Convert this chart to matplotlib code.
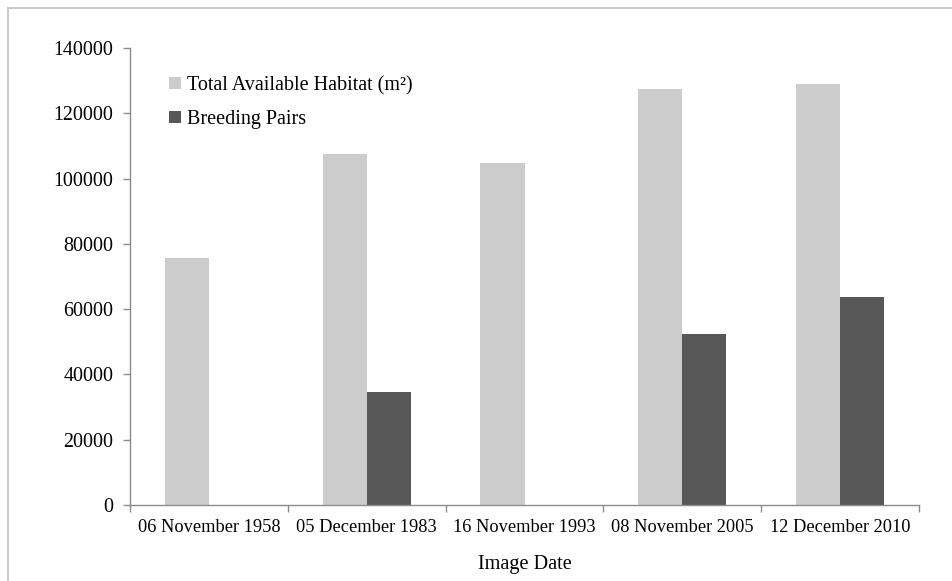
import numpy as np
import matplotlib.pyplot as plt
from matplotlib.lines import Line2D

plt.rcParams['font.family'] = ['Liberation Serif', 'DejaVu Serif']

dates = ['06 November 1958', '05 December 1983', '16 November 1993',
         '08 November 2005', '12 December 2010']
habitat = [75700, 107600, 104700, 127500, 129000]
breeding = [0, 34600, 0, 52400, 63800]

light = '#cccccc'
dark = '#575757'
axis_col = '#8c8c8c'

fig = plt.figure(figsize=(9.52, 5.81), dpi=100)
ax = fig.add_axes([130 / 952, 1 - 505 / 581, 789 / 952, 457 / 581])

x = np.arange(len(dates))
w = 0.28
ax.bar(x - w / 2, habitat, w, color=light, label='Total Available Habitat (m²)')
ax.bar(x + w / 2, breeding, w, color=dark, label='Breeding Pairs')

ax.set_xlim(-0.5, len(dates) - 0.5)
ax.set_ylim(0, 140000)
ax.set_yticks(np.arange(0, 140001, 20000))
ax.set_xticks(x)
ax.set_xticklabels(dates)
ax.set_xticks(np.arange(-0.5, len(dates)), minor=True)
ax.tick_params(axis='x', which='major', length=0, pad=10, labelsize=13.2)
ax.tick_params(axis='x', which='minor', length=5, color=axis_col, width=1)
ax.tick_params(axis='y', length=5, color=axis_col, width=1, pad=7, labelsize=14.4)

for s in ['top', 'right']:
    ax.spines[s].set_visible(False)
for s in ['left', 'bottom']:
    ax.spines[s].set_color(axis_col)
    ax.spines[s].set_linewidth(1)

ax.set_xlabel('Image Date', fontsize=14.6, labelpad=14)

leg = ax.legend(loc='upper left', bbox_to_anchor=(0.027, 0.978), frameon=False,
                fontsize=14.5, handlelength=0.55, handleheight=0.55,
                handletextpad=0.3, labelspacing=0.72)

# outer chart border (top and left visible)
fig.add_artist(Line2D([8 / 952, 1], [1 - 8 / 581, 1 - 8 / 581],
                      transform=fig.transFigure, color='#c0c0c0', lw=1.2))
fig.add_artist(Line2D([8 / 952, 8 / 952], [0, 1 - 8 / 581],
                      transform=fig.transFigure, color='#c0c0c0', lw=1.2))

fig.savefig('out.png', dpi=100)
